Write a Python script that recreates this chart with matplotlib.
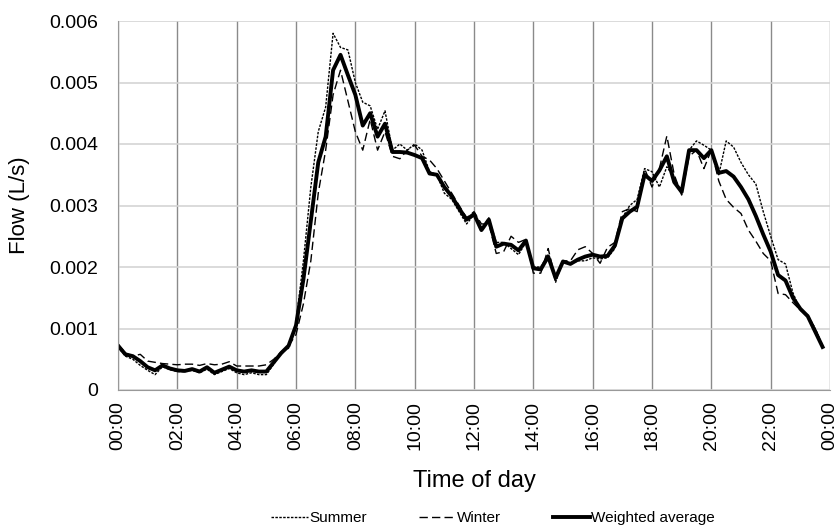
import numpy as np
import matplotlib.pyplot as plt

plt.rcParams['font.family'] = ['Liberation Sans', 'DejaVu Sans']

# hours of the day, 15 min steps
hours = np.arange(96) * 0.25

summer = [0.00070, 0.00055, 0.00050, 0.00040, 0.00032, 0.00025, 0.00038, 0.00033,
          0.00030, 0.00030, 0.00032, 0.00028, 0.00034, 0.00025, 0.00030, 0.00035,
          0.00028, 0.00025, 0.00028, 0.00025, 0.00025, 0.00042, 0.00060, 0.00068,
          0.00110, 0.00210, 0.00330, 0.00420, 0.00460, 0.00580, 0.00557, 0.00553,
          0.00500, 0.00468, 0.00462, 0.00424, 0.00454, 0.00390, 0.00400, 0.00390,
          0.00400, 0.00390, 0.00355, 0.00350, 0.00320, 0.00310, 0.00290, 0.00270,
          0.00285, 0.00260, 0.00280, 0.00240, 0.00240, 0.00230, 0.00220, 0.00240,
          0.00200, 0.00200, 0.00220, 0.00175, 0.00210, 0.00205, 0.00210, 0.00210,
          0.00215, 0.00213, 0.00215, 0.00230, 0.00280, 0.00300, 0.00310, 0.00360,
          0.00355, 0.00330, 0.00363, 0.00345, 0.00320, 0.00390, 0.00405, 0.00398,
          0.00390, 0.00350, 0.00405, 0.00395, 0.00370, 0.00350, 0.00335, 0.00290,
          0.00250, 0.00212, 0.00205, 0.00158, 0.00130, 0.00122, 0.00100, 0.00072]

winter = [0.00075, 0.00060, 0.00055, 0.00058, 0.00047, 0.00045, 0.00043, 0.00042,
          0.00041, 0.00042, 0.00042, 0.00040, 0.00043, 0.00041, 0.00042, 0.00046,
          0.00039, 0.00039, 0.00039, 0.00039, 0.00041, 0.00050, 0.00062, 0.00072,
          0.00090, 0.00140, 0.00210, 0.00320, 0.00390, 0.00480, 0.00520, 0.00470,
          0.00420, 0.00390, 0.00440, 0.00390, 0.00420, 0.00380, 0.00376, 0.00390,
          0.00398, 0.00380, 0.00374, 0.00360, 0.00340, 0.00320, 0.00300, 0.00280,
          0.00290, 0.00270, 0.00270, 0.00222, 0.00225, 0.00250, 0.00240, 0.00245,
          0.00190, 0.00190, 0.00230, 0.00180, 0.00210, 0.00210, 0.00228, 0.00233,
          0.00222, 0.00206, 0.00232, 0.00240, 0.00290, 0.00295, 0.00290, 0.00360,
          0.00330, 0.00360, 0.00413, 0.00350, 0.00317, 0.00380, 0.00390, 0.00360,
          0.00390, 0.00340, 0.00310, 0.00297, 0.00287, 0.00260, 0.00242, 0.00222,
          0.00210, 0.00157, 0.00155, 0.00142, 0.00130, 0.00120, 0.00100, 0.00072]

weighted = [0.00072, 0.00058, 0.00055, 0.00047, 0.00037, 0.00032, 0.00040, 0.00035,
            0.00032, 0.00031, 0.00034, 0.00030, 0.00037, 0.00028, 0.00033, 0.00038,
            0.00032, 0.00030, 0.00032, 0.00030, 0.00030, 0.00045, 0.00060, 0.00072,
            0.00105, 0.00180, 0.00275, 0.00370, 0.00412, 0.00520, 0.00545, 0.00512,
            0.00480, 0.00430, 0.00450, 0.00412, 0.00433, 0.00387, 0.00387, 0.00386,
            0.00382, 0.00377, 0.00352, 0.00350, 0.00330, 0.00315, 0.00295, 0.00277,
            0.00286, 0.00260, 0.00277, 0.00233, 0.00238, 0.00236, 0.00227, 0.00243,
            0.00198, 0.00196, 0.00217, 0.00182, 0.00209, 0.00205, 0.00212, 0.00217,
            0.00220, 0.00217, 0.00218, 0.00235, 0.00279, 0.00290, 0.00298, 0.00350,
            0.00340, 0.00357, 0.00380, 0.00338, 0.00322, 0.00390, 0.00390, 0.00377,
            0.00390, 0.00353, 0.00356, 0.00347, 0.00330, 0.00310, 0.00283, 0.00253,
            0.00225, 0.00187, 0.00178, 0.00150, 0.00132, 0.00120, 0.00095, 0.00070]

xticks = np.arange(0, 25, 2)
xtick_labels = ['00:00', '02:00', '04:00', '06:00', '08:00', '10:00', '12:00',
                '14:00', '16:00', '18:00', '20:00', '22:00', '00:00']
yticks = [0, 0.001, 0.002, 0.003, 0.004, 0.005, 0.006]
ytick_labels = ['0', '0.001', '0.002', '0.003', '0.004', '0.005', '0.006']

fig = plt.figure(figsize=(8.38, 5.28), dpi=100)
ax = fig.add_axes([118/838, 1-390/528, 712/838, 369/528])

ax.plot(hours, summer, color='black', lw=1.0, linestyle=(0, (1.8, 1.0)), label='Summer')
ax.plot(hours, winter, color='black', lw=1.0, linestyle=(0, (6, 3)), label='Winter')
ax.plot(hours, weighted, color='black', lw=2.8, label='Weighted average')

ax.set_xlim(0, 24)
ax.set_ylim(0, 0.006)
ax.set_xticks(xticks)
ax.set_xticklabels(xtick_labels, rotation=90, fontsize=14)
ax.set_yticks(yticks)
ax.set_yticklabels(ytick_labels, fontsize=14)
ax.tick_params(axis='y', length=0, pad=14)
ax.tick_params(axis='x', length=0, pad=8)

ax.grid(axis='y', color='#d4d4d4', lw=1.2)
ax.grid(axis='x', color='#8a8a8a', lw=1.0)
ax.set_axisbelow(True)
for s in ['top', 'right']:
    ax.spines[s].set_visible(False)
for s in ['left', 'bottom']:
    ax.spines[s].set_color('#999999')

ax.set_xlabel('Time of day', fontsize=17, labelpad=14)
ax.set_ylabel('Flow (L/s)', fontsize=16, labelpad=14)

fig.legend(loc='center', bbox_to_anchor=(493/838, 1-518/528), ncol=3, frameon=False,
           fontsize=11, handlelength=2.4, columnspacing=3.4, handletextpad=0.1)

plt.savefig('out.png')
